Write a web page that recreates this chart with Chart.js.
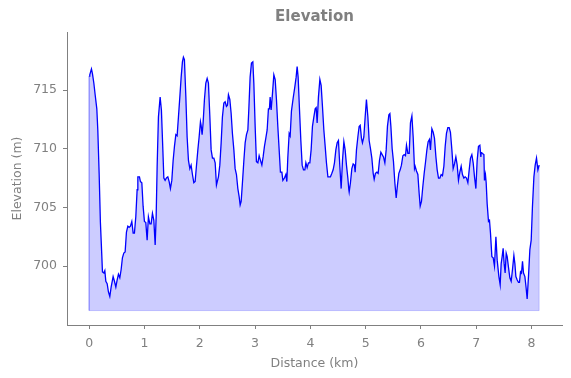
<!DOCTYPE html>
<html>
<head>
<meta charset="utf-8">
<script src="https://cdn.jsdelivr.net/npm/chart.js@4/dist/chart.umd.min.js"></script>
<style>
  html, body { margin: 0; padding: 0; background: #fff; }
  #wrap { width: 571px; height: 378px; }
</style>
</head>
<body>
<div id="wrap"><canvas id="elevChart" width="571" height="378"></canvas></div>
<script>
// Distancia (km) y elevación (m)
const dist = [
  0.000, 0.012, 0.042, 0.060, 0.085, 0.109, 0.139, 0.157, 0.181, 0.204,
  0.230, 0.241, 0.266, 0.284, 0.302, 0.326, 0.349, 0.374, 0.398, 0.434,
  0.458, 0.483, 0.506, 0.530, 0.555, 0.579, 0.602, 0.627, 0.651, 0.675,
  0.700, 0.723, 0.747, 0.772, 0.796, 0.819, 0.844, 0.868, 0.881, 0.910,
  0.928, 0.953, 0.976, 1.000, 1.025, 1.049, 1.072, 1.098,
  1.121, 1.145, 1.170, 1.194, 1.212, 1.230, 1.253, 1.284, 1.307, 1.333,
  1.351, 1.374, 1.398, 1.423, 1.447, 1.470, 1.495, 1.519, 1.543, 1.568,
  1.591, 1.615, 1.640, 1.664, 1.687, 1.705, 1.723, 1.749, 1.772, 1.796,
  1.821, 1.844, 1.868, 1.893, 1.917, 1.940, 1.966, 1.989, 2.013, 2.025,
  2.043, 2.061, 2.085, 2.110, 2.134, 2.157, 2.183, 2.206, 2.230, 2.255,
  2.279, 2.302,
  2.338, 2.363, 2.387, 2.410, 2.436, 2.459, 2.483, 2.501, 2.519, 2.544,
  2.568, 2.591, 2.617, 2.640, 2.664, 2.689, 2.713, 2.731, 2.749, 2.772,
  2.798, 2.821, 2.845, 2.870, 2.888, 2.911, 2.935, 2.960, 2.978, 3.002,
  3.025, 3.051, 3.074, 3.098, 3.123, 3.146, 3.170, 3.195, 3.219, 3.242,
  3.260, 3.273, 3.291, 3.315, 3.340, 3.364, 3.387, 3.412, 3.436, 3.459,
  3.485, 3.503,
  3.532, 3.557, 3.575, 3.593, 3.617, 3.635, 3.658, 3.689, 3.720, 3.743,
  3.761, 3.779, 3.803, 3.828, 3.852, 3.876, 3.901, 3.919, 3.942, 3.966,
  3.991, 4.014, 4.038, 4.063, 4.087, 4.105, 4.123, 4.146, 4.172, 4.195,
  4.219, 4.244, 4.268, 4.291, 4.317, 4.340, 4.363, 4.389, 4.412, 4.436,
  4.461, 4.485, 4.508, 4.533, 4.557, 4.581, 4.606, 4.629, 4.653, 4.678,
  4.696,
  4.702, 4.725, 4.750, 4.774, 4.797, 4.810, 4.834, 4.859, 4.882, 4.901,
  4.924, 4.942, 4.967, 4.991, 5.014, 5.040, 5.063, 5.087, 5.112, 5.136,
  5.154, 5.177, 5.203, 5.226, 5.250, 5.275, 5.298, 5.322, 5.347, 5.371,
  5.394, 5.420, 5.438, 5.456, 5.479, 5.503, 5.528, 5.552, 5.575, 5.600,
  5.624, 5.647, 5.673, 5.696, 5.720, 5.738, 5.763, 5.787, 5.810, 5.836,
  5.859, 5.883,
  5.895, 5.919, 5.944, 5.967, 5.986, 6.009, 6.034, 6.058, 6.081, 6.107,
  6.130, 6.154, 6.172, 6.197, 6.221, 6.244, 6.270, 6.293, 6.317, 6.342,
  6.365, 6.389, 6.414, 6.438, 6.461, 6.486, 6.510, 6.533, 6.559, 6.582,
  6.606, 6.631, 6.655, 6.678, 6.703, 6.727, 6.750, 6.776, 6.799, 6.823,
  6.848, 6.872, 6.895, 6.920, 6.944, 6.968, 6.993, 7.016, 7.040, 7.065,
  7.083,
  7.089, 7.112, 7.138, 7.148, 7.166, 7.179, 7.197, 7.221, 7.239, 7.257,
  7.282, 7.306, 7.329, 7.355, 7.378, 7.409, 7.432, 7.450, 7.468, 7.486,
  7.504, 7.522, 7.541, 7.559, 7.582, 7.607, 7.631, 7.655, 7.680, 7.698,
  7.716, 7.740, 7.763, 7.781, 7.800, 7.818, 7.836, 7.854, 7.879, 7.902,
  7.920, 7.944, 7.969, 7.993, 8.016, 8.042, 8.065, 8.089, 8.114, 8.137
];

const elev = [
  716.2, 716.3, 716.8, 716.4, 715.6, 714.6, 713.4, 711.6, 707.9, 703.7,
  700.8, 699.5, 699.4, 699.6, 698.7, 698.5, 697.8, 697.4, 698.2, 699.1,
  698.7, 698.2, 698.8, 699.3, 699.0, 699.7, 700.7, 701.1, 701.2, 702.9,
  703.4, 703.3, 703.4, 703.8, 702.8, 702.8, 704.2, 706.5, 707.6, 707.6,
  707.2, 707.1, 705.1, 703.8, 703.7, 702.2, 704.2, 703.6,
  703.6, 704.5, 703.9, 701.8, 704.2, 708.5, 712.7, 714.4, 713.3, 709.9,
  707.5, 707.3, 707.5, 707.6, 707.2, 706.6, 707.3, 709.0, 710.2, 711.2,
  711.1, 712.7, 714.4, 716.1, 717.4, 717.8, 717.6, 714.4, 711.0, 709.0,
  708.3, 708.6, 707.8, 707.1, 707.2, 708.5, 709.9, 711.0, 712.3, 712.0,
  711.2, 712.2, 714.2, 715.6, 716.0, 715.6, 712.7, 709.9, 709.2, 709.2,
  708.8, 706.9,
  707.6, 708.6, 710.5, 712.7, 713.9, 714.0, 713.6, 713.7, 714.6, 714.2,
  713.0, 711.3, 709.9, 708.3, 707.8, 706.6, 705.9, 705.2, 705.5, 707.1,
  709.0, 710.5, 711.2, 711.6, 713.4, 716.1, 717.3, 717.4, 715.6, 711.9,
  708.9, 708.8, 709.4, 709.0, 708.6, 709.3, 710.2, 710.9, 711.6, 713.4,
  713.4, 714.4, 713.3, 714.7, 716.3, 715.9, 714.2, 711.9, 709.9, 708.0,
  708.0, 707.3,
  707.5, 707.8, 707.2, 709.3, 711.3, 711.1, 713.2, 714.3, 715.3, 716.1,
  717.0, 716.1, 713.4, 710.7, 708.6, 708.2, 708.2, 708.8, 708.4, 708.8,
  708.8, 709.9, 711.9, 712.7, 713.4, 713.5, 712.2, 714.4, 715.9, 715.4,
  713.6, 711.6, 710.2, 708.8, 707.6, 707.6, 707.6, 707.9, 708.2, 708.8,
  709.9, 710.5, 710.7, 708.5, 706.6, 709.0, 710.6, 709.9, 708.6, 707.5,
  706.5,
  706.3, 707.1, 708.3, 708.7, 708.6, 708.0, 709.9, 711.0, 711.9, 712.0,
  710.9, 710.5, 711.0, 712.7, 714.2, 712.7, 710.7, 710.0, 709.2, 707.9,
  707.4, 707.9, 708.0, 707.9, 709.0, 709.7, 709.5, 709.3, 708.8, 709.9,
  711.9, 712.9, 713.0, 711.9, 710.0, 708.9, 707.1, 705.8, 706.9, 707.9,
  708.2, 708.6, 709.4, 709.5, 709.4, 710.3, 709.6, 709.6, 712.2, 712.8,
  711.0, 708.3,
  708.5, 708.1, 707.8, 706.2, 705.1, 705.5, 706.8, 707.9, 708.8, 709.9,
  710.6, 710.8, 709.9, 711.7, 711.4, 710.9, 709.3, 708.2, 707.5, 707.5,
  707.8, 707.7, 708.5, 710.2, 711.3, 711.8, 711.8, 711.4, 709.9, 708.3,
  708.7, 709.3, 708.6, 707.3, 708.0, 708.5, 707.8, 707.5, 707.6, 707.5,
  707.1, 708.2, 709.2, 709.5, 708.8, 707.6, 706.6, 709.0, 710.2, 710.3,
  709.3,
  709.7, 709.6, 709.5, 707.3, 707.8, 707.1, 705.3, 703.8, 703.9, 702.8,
  700.8, 700.7, 700.0, 702.5, 700.5, 699.1, 698.4, 700.2, 700.8, 701.5,
  700.2, 699.4, 701.1, 700.8, 699.9, 699.0, 698.7, 699.7, 700.9, 700.2,
  699.1, 698.8, 698.6, 698.6, 699.5, 699.4, 700.4, 699.4, 699.1, 698.1,
  697.2, 699.1, 701.4, 702.2, 705.1, 707.6, 708.6, 709.2, 708.2, 708.6
];

const xTicks = [0, 1, 2, 3, 4, 5, 6, 7, 8];
const yTicks = [700, 705, 710, 715];

const gray = '#808080';
const fontFam = "'DejaVu Sans', sans-serif";

// Base del relleno: un metro por debajo del mínimo
const base = Math.min(...elev) - 1;
const last = dist.length - 1;

const points = dist.map((d, i) => ({ x: d, y: elev[i] }));

// Borde del área rellenada (lado izquierdo, base y lado derecho)
const edge = [
  { x: dist[0], y: elev[0] },
  { x: dist[0], y: base },
  { x: dist[last], y: base },
  { x: dist[last], y: elev[last] }
];

const ctx = document.getElementById('elevChart').getContext('2d');

new Chart(ctx, {
    type: 'line',
    data: {
        datasets: [{
            data: points,
            borderColor: '#0000ff',
            borderWidth: 1.3,
            backgroundColor: 'rgba(0, 0, 255, 0.2)',
            fill: { value: base },
            pointRadius: 0,
            tension: 0
        }, {
            data: edge,
            borderColor: 'rgba(0, 0, 255, 0.2)',
            borderWidth: 1,
            fill: false,
            pointRadius: 0,
            tension: 0
        }]
    },
    options: {
        responsive: false,
        animation: false,
        layout: { padding: { left: 0, right: 9, top: 0, bottom: 0 } },
        scales: {
            x: {
                type: 'linear',
                min: -0.4,
                max: 8.55,
                afterBuildTicks: (axis) => { axis.ticks = xTicks.map(v => ({ value: v })); },
                afterFit: (axis) => { axis.height = 53; },
                grid: { display: true, drawOnChartArea: false, color: gray, tickLength: 4 },
                border: { display: true, color: gray, width: 1 },
                ticks: { color: gray, font: { family: fontFam, size: 12.5 }, padding: 7, maxRotation: 0 },
                title: { display: true, text: 'Distance (km)', color: gray, font: { family: fontFam, size: 12.5 }, padding: { top: 3, bottom: 6.5 } }
            },
            y: {
                min: 694.97,
                max: 719.95,
                afterBuildTicks: (axis) => { axis.ticks = yTicks.map(v => ({ value: v })); },
                afterFit: (axis) => { axis.width = 67; },
                grid: { display: true, drawOnChartArea: false, color: gray, tickLength: 4 },
                border: { display: true, color: gray, width: 1 },
                ticks: { color: gray, font: { family: fontFam, size: 12.5 }, padding: 6 },
                title: { display: true, text: 'Elevation (m)', color: gray, font: { family: fontFam, size: 12.5 }, padding: { top: 10, bottom: 0 } }
            }
        },
        plugins: {
            legend: { display: false },
            tooltip: { enabled: false },
            title: {
                display: true,
                text: 'Elevation',
                fullSize: false,
                color: gray,
                font: { family: fontFam, size: 15, weight: 'bold' },
                padding: { top: 8.5, bottom: 5.5 }
            }
        }
    }
});
</script>
</body>
</html>
